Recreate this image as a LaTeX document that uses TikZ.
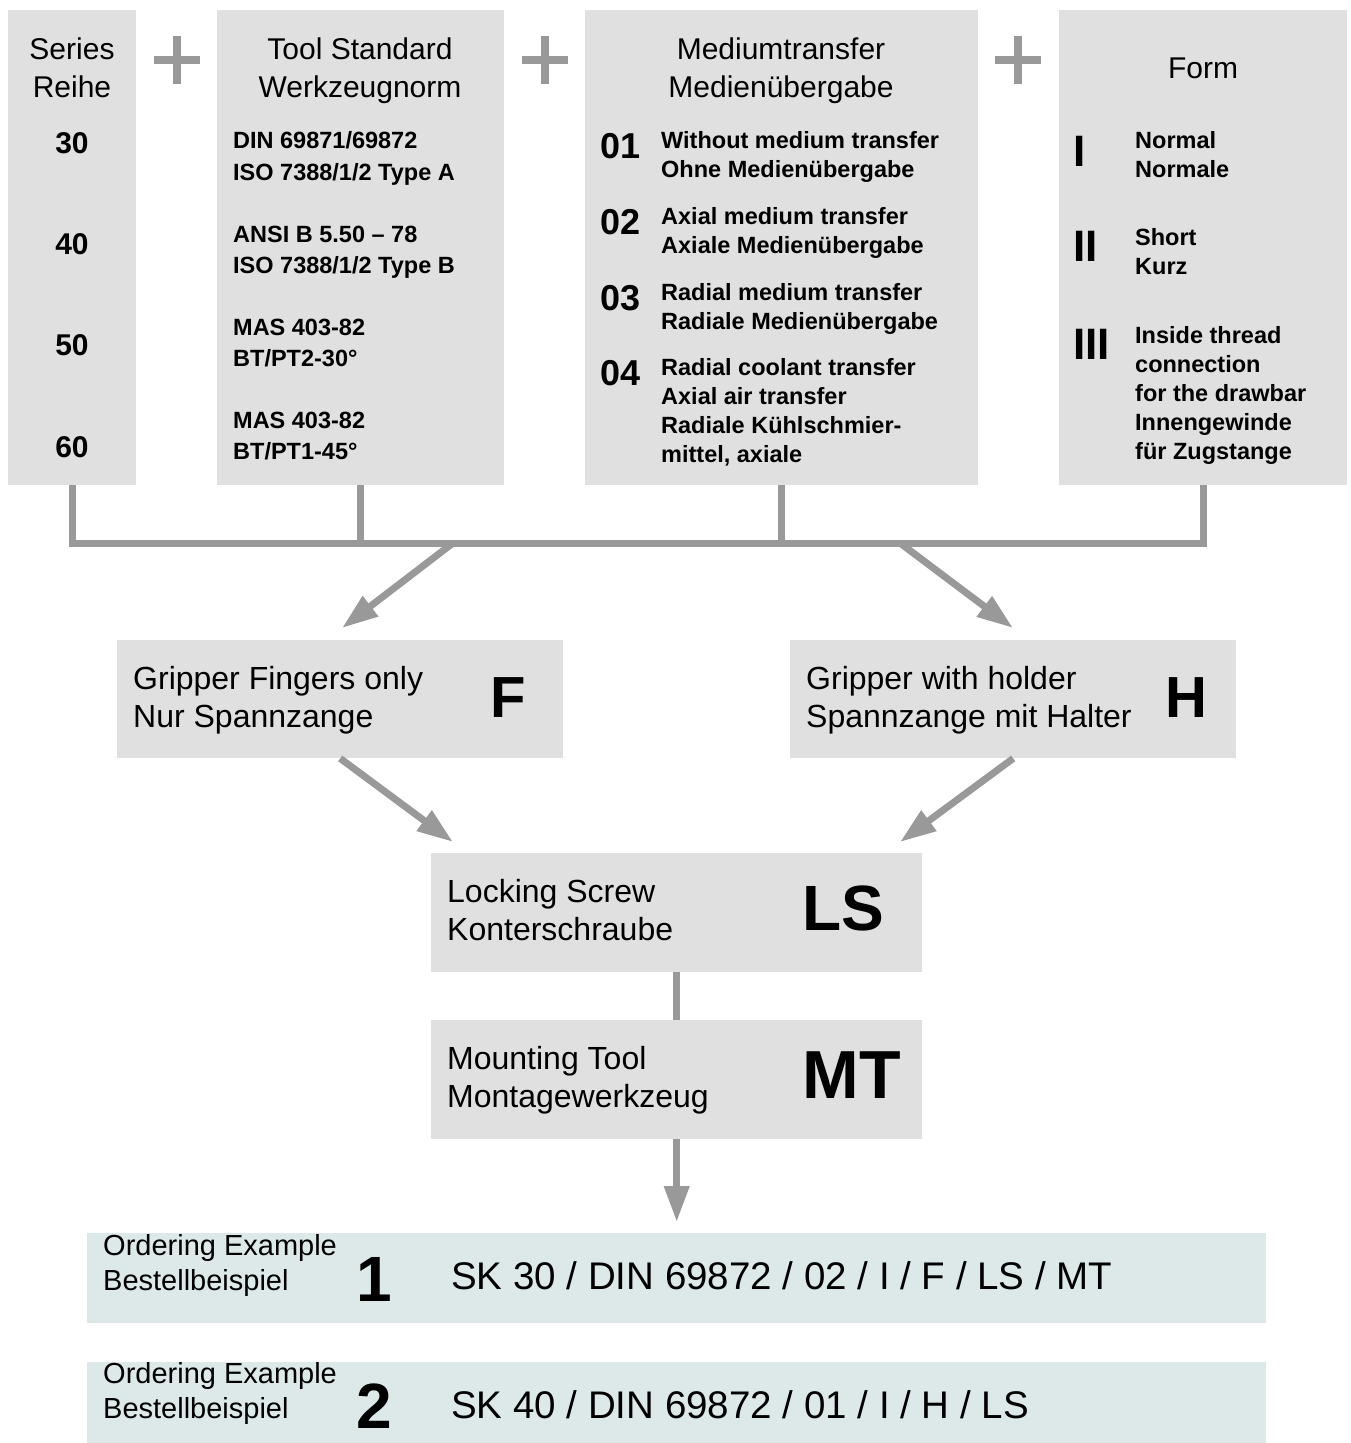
\documentclass[tikz,border=0pt]{standalone}
\usepackage{fontspec}
\setmainfont{Liberation Sans}
\usetikzlibrary{arrows.meta}
\usetikzlibrary{positioning}
\usepackage{xcolor}
\definecolor{boxgray}{HTML}{E0E0E0}
\definecolor{linegray}{HTML}{999999}
\definecolor{bandteal}{HTML}{DDE9E9}

\begin{document}
\begin{tikzpicture}[x=1pt, y=-1pt,
  box/.style={fill=boxgray, inner sep=0pt, anchor=north west},
  band/.style={fill=bandteal, inner sep=0pt, anchor=north west},
  head/.style={inner sep=0pt, anchor=base, align=center, font=\fontsize{30}{38}\selectfont},
  item/.style={inner sep=0pt, anchor=base west, align=left, font=\bfseries\fontsize{23.5}{29}\selectfont},
  code/.style={inner sep=0pt, anchor=base west, font=\bfseries\fontsize{36}{36}\selectfont},
  label/.style={inner sep=0pt, anchor=base west, align=left, font=\fontsize{32}{38}\selectfont},
  letter/.style={inner sep=0pt, anchor=base, font=\bfseries\fontsize{58}{58}\selectfont},
  link/.style={draw=linegray, line width=7pt},
  arrow/.style={link, -{Triangle[length=36pt, width=24pt]}},
  plus/.style={draw=linegray, line width=8pt}]
  \useasboundingbox (0,0) rectangle (1350,1443);

  % Top: the four choices
  \node[box, minimum width=128pt, minimum height=475pt] (series) at (8,10) {};
  \node[box, minimum width=287pt, minimum height=475pt] (tool)   at (217,10) {};
  \node[box, minimum width=393pt, minimum height=475pt] (medium) at (585,10) {};
  \node[box, minimum width=288pt, minimum height=475pt] (form)   at (1059,10) {};
  \foreach \px in {177,545,1018}
    \draw[plus] (\px-23,60) -- (\px+23,60) (\px,36) -- (\px,84);

  % Series (multi-line nodes sit on their last baseline)
  \node[head] (seriesT) at (72,97) {Series\\Reihe};
  \foreach \n/\y in {30/153,40/254,50/355,60/457}
    \node[inner sep=0pt, anchor=base, font=\bfseries\fontsize{30}{30}\selectfont] (s\n) at (72,\y) {\n};

  % Tool standard
  \node[head] (toolT) at (360,97) {Tool Standard\\Werkzeugnorm};
  \node[item, font=\bfseries\fontsize{23.5}{32}\selectfont] (t1) at (233,180) {DIN 69871/69872\\ISO 7388/1/2 Type A};
  \node[item, font=\bfseries\fontsize{23.5}{31}\selectfont] (t2) at (233,273) {ANSI B 5.50 – 78\\ISO 7388/1/2 Type B};
  \node[item, font=\bfseries\fontsize{23.5}{31}\selectfont] (t3) at (233,366) {MAS 403-82\\BT/PT2-30°};
  \node[item, font=\bfseries\fontsize{23.5}{31}\selectfont] (t4) at (233,459) {MAS 403-82\\BT/PT1-45°};

  % Medium transfer
  \node[head] (mediumT) at (781,97) {Mediumtransfer\\Medienübergabe};
  \node[code] (m01) at (600,158) {01};
  \node[item] (m1) at (661,177) {Without medium transfer\\Ohne Medienübergabe};
  \node[code] (m02) at (600,234) {02};
  \node[item] (m2) at (661,253) {Axial medium transfer\\Axiale Medienübergabe};
  \node[code] (m03) at (600,310) {03};
  \node[item] (m3) at (661,329) {Radial medium transfer\\Radiale Medienübergabe};
  \node[code] (m04) at (600,385) {04};
  \node[item] (m4) at (661,462) {Radial coolant transfer\\Axial air transfer\\Radiale Kühlschmier-\\mittel, axiale};

  % Form
  \node[head] (formT) at (1203,78) {Form};
  \node[code, font=\bfseries\fontsize{44}{44}\selectfont] (f1) at (1073,166) {I};
  \node[item] (fa) at (1135,177) {Normal\\Normale};
  \node[code, font=\bfseries\fontsize{44}{44}\selectfont] (f2) at (1073,261) {II};
  \node[item] (fb) at (1135,274) {Short\\Kurz};
  \node[code, font=\bfseries\fontsize{44}{44}\selectfont] (f3) at (1073,359) {III};
  \node[item] (fc) at (1135,459) {Inside thread\\connection\\for the drawbar\\Innengewinde\\für Zugstange};

  % Collecting bus
  \coordinate (bus) at (0,543);
  \draw[link] (series.south) -- (series.south |- bus) -- (form.south |- bus) -- (form.south);
  \draw[link] (tool.south) -- (tool.south |- bus);
  \draw[link] (medium.south) -- (medium.south |- bus);

  % Gripper variants
  \node[box, minimum width=446pt, minimum height=118pt] (gripF) at (117,640) {};
  \node[label] (gripFT) at (133,727) {Gripper Fingers only\\Nur Spannzange};
  \node[letter] (gripFL) at (508,717) {F};
  \node[box, minimum width=446pt, minimum height=118pt] (gripH) at (790,640) {};
  \node[label] (gripHT) at (806,727) {Gripper with holder\\Spannzange mit Halter};
  \node[letter] (gripHL) at (1186,717) {H};

  \coordinate (splitF) at (453,543);
  \coordinate (splitH) at (900,543);
  \coordinate (tipF) at (342,628);
  \coordinate (tipH) at (1013,628);
  \draw[arrow] (splitF) -- (tipF);
  \draw[arrow] (splitH) -- (tipH);

  % Locking screw and mounting tool
  \node[box, minimum width=491pt, minimum height=119pt] (lock) at (431,853) {};
  \node[label] (lockT) at (447,940) {Locking Screw\\Konterschraube};
  \node[letter, font=\bfseries\fontsize{64}{64}\selectfont] (lockL) at (843,930) {LS};
  \node[box, minimum width=491pt, minimum height=119pt] (mount) at (431,1020) {};
  \node[label] (mountT) at (447,1107) {Mounting Tool\\Montagewerkzeug};
  \node[letter, font=\bfseries\fontsize{68}{68}\selectfont] (mountL) at (852,1098) {MT};

  \coordinate (tipLF) at (453,842);
  \coordinate (tipLH) at (900,842);
  \draw[arrow] (gripF.south) -- (tipLF);
  \draw[arrow] (gripH.south) -- (tipLH);
  \draw[link] (lock.south) -- (mount.north);

  % Ordering examples
  \node[band, minimum width=1179pt, minimum height=90pt] (ex1) at (87,1233) {};
  \node[band, minimum width=1179pt, minimum height=81pt] (ex2) at (87,1362) {};
  \coordinate (tipEx) at (mount.south |- 0,1222);
  \draw[arrow] (mount.south) -- (tipEx);

  \node[inner sep=0pt, anchor=base west, align=left, font=\fontsize{29}{35}\selectfont] (ex1T) at (103,1290) {Ordering Example\\Bestellbeispiel};
  \node[letter, font=\bfseries\fontsize{64}{64}\selectfont] (ex1N) at (374,1301) {1};
  \node[inner sep=0pt, anchor=base west, font=\fontsize{38.5}{38.5}\selectfont] (ex1C) at (451,1289) {SK 30 / DIN 69872 / 02 / I / F / LS / MT};
  \node[inner sep=0pt, anchor=base west, align=left, font=\fontsize{29}{35}\selectfont] (ex2T) at (103,1418) {Ordering Example\\Bestellbeispiel};
  \node[letter, font=\bfseries\fontsize{64}{64}\selectfont] (ex2N) at (374,1428) {2};
  \node[inner sep=0pt, anchor=base west, font=\fontsize{38.5}{38.5}\selectfont] (ex2C) at (451,1418) {SK 40 / DIN 69872 / 01 / I / H / LS};
\end{tikzpicture}
\end{document}
